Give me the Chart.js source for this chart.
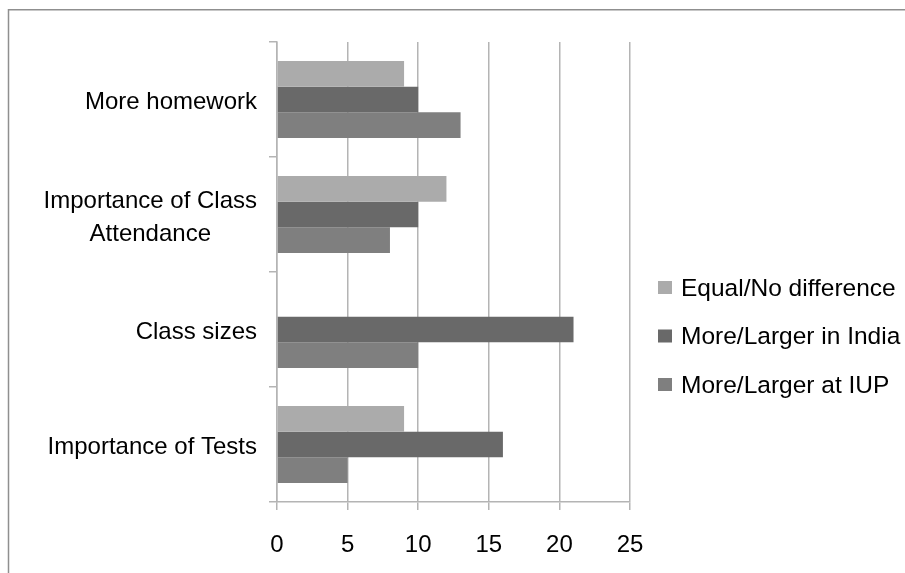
<!DOCTYPE html>
<html>
<head>
<meta charset="utf-8">
<script src="https://cdn.jsdelivr.net/npm/chart.js@4/dist/chart.umd.min.js"></script>
<style>
  html, body { margin: 0; padding: 0; background: #ffffff; }
  #wrap { position: relative; width: 905px; height: 573px; }
  canvas { display: block; }
</style>
</head>
<body>
<div id="wrap"><canvas id="c" width="905" height="573"></canvas></div>
<script>
// Survey topics (top to bottom) and the three response groups
const categories = [
  ['More homework'],
  ['Importance of Class', 'Attendance'],
  ['Class sizes'],
  ['Importance of Tests']
];
const seriesNames = ['Equal/No difference', 'More/Larger in India', 'More/Larger at IUP'];
const equalValues = [9, 12, 0, 9];
const indiaValues = [10, 10, 21, 16];
const iupValues   = [13, 8, 10, 5];
const xTicks = [0, 5, 10, 15, 20, 25];

const colors = ['#ababab', '#696969', '#7f7f7f'];
const FONT = '"Liberation Sans", Arial, sans-serif';

// Frame around the whole chart
const framePlugin = {
  id: 'frame',
  beforeDraw(chart) {
    const ctx = chart.ctx;
    ctx.save();
    ctx.fillStyle = '#ffffff';
    ctx.fillRect(0, 0, chart.width, chart.height);
    ctx.strokeStyle = '#8f8f8f';
    ctx.lineWidth = 1.5;
    ctx.strokeRect(8.5, 9.75, 1000, 1000);
    ctx.restore();
  }
};

// Category labels: lines of a label centred on each other, block right-aligned
const categoryLabelPlugin = {
  id: 'categoryLabels',
  afterDraw(chart) {
    const scale = chart.scales.y;
    const ctx = chart.ctx;
    const right = chart.chartArea.left - 20;
    const lineGap = 33;
    ctx.save();
    ctx.font = '24px ' + FONT;
    ctx.fillStyle = '#000000';
    ctx.textAlign = 'center';
    ctx.textBaseline = 'middle';
    chart.data.labels.forEach((lines, i) => {
      const yc = scale.getPixelForValue(i) + 3;
      const w = Math.max(...lines.map(l => ctx.measureText(l).width));
      const cx = right - w / 2;
      const y0 = yc - (lines.length - 1) * lineGap / 2;
      lines.forEach((l, k) => ctx.fillText(l, cx, y0 + k * lineGap));
    });
    ctx.restore();
  }
};

// Legend to the right of the plot area
const sideLegendPlugin = {
  id: 'sideLegend',
  afterDraw(chart) {
    const ctx = chart.ctx;
    const x0 = chart.chartArea.right + 28;
    const yMid = 336.5;
    const step = 48.5;
    const n = chart.data.datasets.length;
    ctx.save();
    ctx.font = '24.5px ' + FONT;
    ctx.textAlign = 'left';
    ctx.textBaseline = 'middle';
    chart.data.datasets.forEach((ds, i) => {
      const y = yMid + (i - (n - 1) / 2) * step;
      ctx.fillStyle = ds.backgroundColor;
      ctx.fillRect(x0, y - 7, 14, 13);
      ctx.fillStyle = '#000000';
      ctx.fillText(ds.label, x0 + 23, y + 1);
    });
    ctx.restore();
  }
};

new Chart(document.getElementById('c'), {
  type: 'bar',
  data: {
    labels: categories,
    datasets: [
      { label: seriesNames[0], data: equalValues, backgroundColor: colors[0] },
      { label: seriesNames[1], data: indiaValues, backgroundColor: colors[1] },
      { label: seriesNames[2], data: iupValues, backgroundColor: colors[2] }
    ]
  },
  options: {
    indexAxis: 'y',
    responsive: false,
    animation: false,
    events: [],
    layout: { padding: { top: 42, right: 275, left: 0, bottom: 0 } },
    datasets: { bar: { categoryPercentage: 0.67, barPercentage: 1.0 } },
    plugins: {
      legend: { display: false },
      tooltip: { enabled: false }
    },
    scales: {
      x: {
        min: 0,
        max: 25,
        afterBuildTicks(scale) { scale.ticks = xTicks.map(v => ({ value: v })); },
        afterFit(scale) { scale.height = 71; },
        grid: {
          color: '#b4b4b4',
          lineWidth: 1.5,
          drawTicks: true,
          tickLength: 8,
          tickColor: '#b4b4b4'
        },
        border: { display: true, color: '#b4b4b4', width: 1.5 },
        ticks: {
          color: '#000000',
          font: { family: FONT, size: 24 },
          padding: 21,
          maxRotation: 0
        }
      },
      y: {
        afterFit(scale) { scale.width = 277; },
        grid: {
          offset: true,
          drawOnChartArea: false,
          drawTicks: true,
          tickLength: 8,
          tickColor: '#b4b4b4',
          lineWidth: 1.5
        },
        border: { display: true, color: '#b4b4b4', width: 1.5 },
        ticks: { display: false }
      }
    }
  },
  plugins: [framePlugin, categoryLabelPlugin, sideLegendPlugin]
});
</script>
</body>
</html>
